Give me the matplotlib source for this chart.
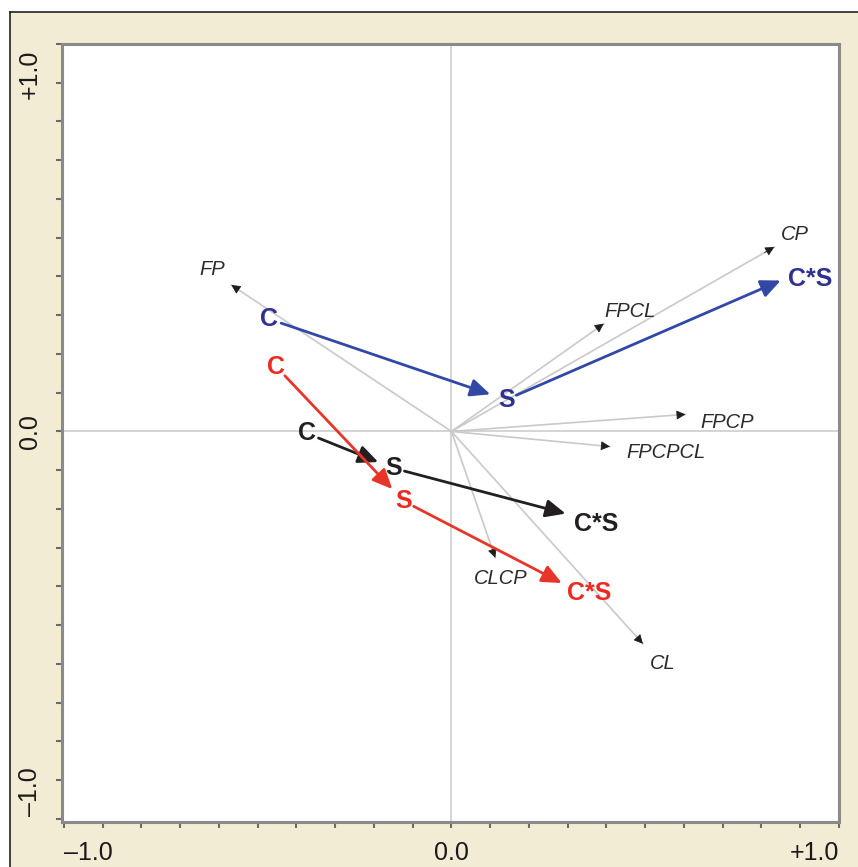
import matplotlib
matplotlib.use("Agg")
import matplotlib.pyplot as plt
from matplotlib.patches import Rectangle
from matplotlib.lines import Line2D
import numpy as np

plt.rcParams['font.family'] = ['Liberation Sans', 'DejaVu Sans']

# ---- data ----
# environmental / treatment vectors (gray lines from origin)
vec_names = ['FP', 'CP', 'FPCL', 'FPCP', 'FPCPCL', 'CLCP', 'CL']
vec_x = [-0.568, 0.833, 0.393, 0.604, 0.409, 0.113, 0.494]
vec_y = [0.378, 0.476, 0.278, 0.044, -0.039, -0.326, -0.548]

# trajectories C -> S -> C*S for three groups
point_labels = ['C', 'S', 'C*S']
blue_x = [-0.470, 0.141, 0.853]
blue_y = [0.290, 0.082, 0.391]
black_x = [-0.373, -0.149, 0.298]
black_y = [-0.005, -0.095, -0.213]
red_x = [-0.452, -0.123, 0.288]
red_y = [0.167, -0.180, -0.393]

tick_values = [-1.0, 0.0, 1.0]
x_tick_labels = ['\u20131.0', '0.0', '+1.0']
y_tick_labels = ['\u20131.0', '0.0', '+1.0']

# ---- figure ----
W, H = 858, 867
fig = plt.figure(figsize=(W / 100, H / 100), dpi=100, facecolor='white')

# beige panel with top/left border
bg = Rectangle((10 / W, 0), 1 - 10 / W, 1 - 12 / H, transform=fig.transFigure,
               facecolor='#F3ECD5', edgecolor='none', zorder=-10)
fig.patches.append(bg)
fig.add_artist(Line2D([10 / W, 1], [1 - 12 / H, 1 - 12 / H], color='#222222', lw=1.2,
                      transform=fig.transFigure))
fig.add_artist(Line2D([10 / W, 10 / W], [0, 1 - 12 / H], color='#222222', lw=1.2,
                      transform=fig.transFigure))

ax = fig.add_axes([62 / W, 1 - 822 / H, (839 - 62) / W, (822 - 44) / H])
ax.set_facecolor('white')
ax.set_xlim(-1.005, 0.993)
ax.set_ylim(-1.008, 0.992)

for side in ['left', 'bottom', 'top', 'right']:
    ax.spines[side].set_color('#8a8a8a')
    ax.spines[side].set_linewidth(2.2)

ax.set_xticks(np.round(np.arange(-1, 1.0001, 0.1), 2))
ax.set_yticks(np.round(np.arange(-1, 1.0001, 0.1), 2))
ax.set_xticklabels([])
ax.set_yticklabels([])
ax.tick_params(direction='out', length=4, width=1.5, color='#6a6a6a')

# tick labels
xa = ax.get_xaxis_transform()
ya = ax.get_yaxis_transform()
for v, lab, ha in zip(tick_values, x_tick_labels, ['left', 'center', 'right']):
    ax.annotate(lab, xy=(v, 0), xycoords=xa, xytext=(0, -14), textcoords='offset points',
                ha=ha, va='top', fontsize=18, color='#1a1a1a')
for v, lab, va in zip(tick_values, y_tick_labels, ['bottom', 'center', 'top']):
    off = {'bottom': 2, 'center': 0, 'top': -4}[va]
    ax.annotate(lab, xy=(0, v), xycoords=ya, xytext=(-23, off), textcoords='offset points',
                ha='center', va=va, rotation=90, fontsize=18, color='#1a1a1a')

# zero lines
ax.axhline(0, color='#d4d4d4', lw=1.4, zorder=1)
ax.axvline(0, color='#d4d4d4', lw=1.4, zorder=1)

# gray vectors
label_offsets = {'FP': (-14, 11), 'CP': (15, 9), 'FPCL': (19, 9), 'FPCP': (30, -6),
                 'FPCPCL': (40, -4), 'CLCP': (4, -15), 'CL': (14, -14)}
for name, x, y in zip(vec_names, vec_x, vec_y):
    ax.plot([0, x], [0, y], color='#c9c9c9', lw=1.2, zorder=2)
    ax.annotate('', xy=(x, y), xytext=(x * 0.97, y * 0.97),
                arrowprops=dict(arrowstyle='-|>,head_length=0.55,head_width=0.28',
                                color='#1e1e1e', lw=0.6, shrinkA=0, shrinkB=0,
                                mutation_scale=10), zorder=3)
    ax.annotate(name, xy=(x, y), xytext=label_offsets[name], textcoords='offset points',
                ha='center', va='center', fontsize=14.5, style='italic', color='#2a2a2a',
                zorder=4)

# trajectories
groups = [
    (blue_x, blue_y, '#3148a6', '#2e3192', (20, 1)),
    (black_x, black_y, '#231f20', '#231f20', (21, -7)),
    (red_x, red_y, '#e8352a', '#ec2a22', (19, -7)),
]
for gx, gy, lc, tc, cs_off in groups:
    segs = [((gx[0], gy[0]), (gx[1], gy[1]), 9, 12),
            ((gx[1], gy[1]), (gx[2], gy[2]), 8, 1)]
    for p0, p1, sa, sb in segs:
        ax.annotate('', xy=p1, xytext=p0,
                    arrowprops=dict(arrowstyle='-|>,head_length=0.6,head_width=0.27',
                                    color=lc, lw=2.0, shrinkA=sa, shrinkB=sb,
                                    mutation_scale=20), zorder=5)
    for i, lab in enumerate(point_labels):
        if lab == 'C*S':
            ax.annotate(lab, xy=(gx[i], gy[i]), xytext=cs_off, textcoords='offset points',
                        ha='center', va='center', fontsize=18, fontweight='bold',
                        color=tc, zorder=6)
        else:
            ax.text(gx[i], gy[i], lab, ha='center', va='center', fontsize=18,
                    fontweight='bold', color=tc, zorder=6)

fig.savefig('out.png', dpi=100, facecolor=fig.get_facecolor())
